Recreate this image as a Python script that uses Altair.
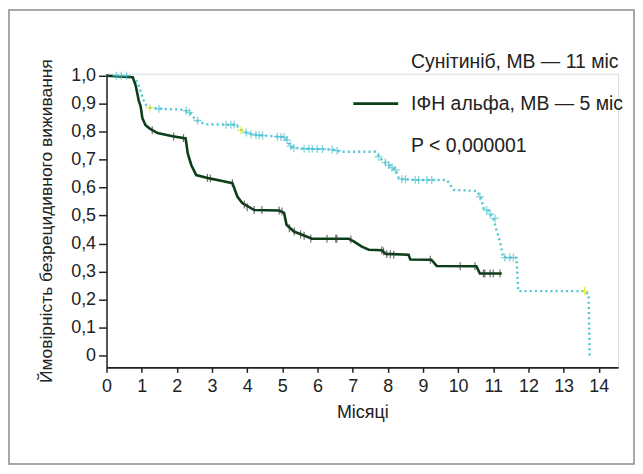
import altair as alt
import pandas as pd

# Sunitinib (dotted cyan) curve points: months, survival
sun_t = [0, 0.71, 0.89, 0.99, 1.085, 1.23, 1.51, 2.16, 2.36, 2.55, 2.83, 3.68, 3.87, 4.15, 4.99, 5.14, 5.24,
         5.48, 6.42, 6.70, 7.65, 7.84, 8.03, 8.22, 8.32, 8.88, 9.68, 9.87, 10.53, 10.65, 10.72, 10.86, 11.0,
         11.09, 11.19, 11.28, 11.66, 11.71, 13.6, 13.71, 13.74]
sun_s = [1.0, 0.998, 0.976, 0.936, 0.9, 0.886, 0.882, 0.879, 0.869, 0.841, 0.826, 0.825, 0.802, 0.79, 0.781,
         0.77, 0.746, 0.74, 0.736, 0.728, 0.728, 0.697, 0.681, 0.663, 0.63, 0.627, 0.627, 0.592, 0.588, 0.563,
         0.527, 0.517, 0.491, 0.449, 0.408, 0.351, 0.349, 0.23, 0.23, 0.218, 0.0]

# IFN alfa (solid dark green) curve points
ifn_t = [0, 0.745, 0.83, 0.915, 0.97, 1.02, 1.11, 1.23, 1.45, 1.88, 2.25, 2.31, 2.41, 2.55, 2.93, 3.29, 3.58,
         3.72, 3.86, 4.2, 4.91, 5.05, 5.12, 5.33, 5.67, 5.84, 6.89, 7.03, 7.26, 7.46, 7.83, 7.94, 8.59, 8.64,
         9.24, 9.39, 10.52, 10.62, 11.24]
ifn_s = [1.0, 0.995, 0.965, 0.912, 0.891, 0.848, 0.823, 0.811, 0.795, 0.784, 0.776, 0.722, 0.681, 0.645,
         0.633, 0.624, 0.616, 0.568, 0.545, 0.52, 0.518, 0.51, 0.467, 0.443, 0.426, 0.417, 0.417, 0.408, 0.389,
         0.378, 0.376, 0.363, 0.36, 0.343, 0.342, 0.32, 0.319, 0.293, 0.293]

# censored observations
sun_cens_t = [0.28, 0.42, 0.57, 1.23, 1.49, 2.27, 2.36, 2.59, 3.40, 3.54, 3.63, 3.82, 3.97, 4.11, 4.25, 4.34,
              4.44, 4.86, 4.96, 5.05, 5.14, 5.24, 5.33, 5.62, 5.76, 5.85, 5.99, 6.14, 6.42, 6.56, 7.74, 7.93,
              8.03, 8.12, 8.22, 8.40, 8.50, 8.78, 8.88, 9.11, 9.25, 10.62, 10.81, 10.91, 11.05, 11.33, 11.47,
              11.57, 13.6]
sun_cens_s = [1.0, 1.0, 1.0, 0.886, 0.882, 0.875, 0.869, 0.84, 0.825, 0.825, 0.825, 0.805, 0.797, 0.791,
              0.788, 0.787, 0.786, 0.782, 0.781, 0.78, 0.77, 0.748, 0.742, 0.739, 0.739, 0.739, 0.738, 0.738,
              0.736, 0.732, 0.71, 0.69, 0.681, 0.672, 0.663, 0.63, 0.63, 0.628, 0.627, 0.627, 0.627, 0.568,
              0.52, 0.505, 0.49, 0.35, 0.35, 0.35, 0.23]
sun_cens_hl = [0, 0, 0, 1, 0, 0, 0, 0, 0, 0, 0, 1, 0, 0, 0, 0, 0, 0, 0, 0, 0, 0, 0, 0, 0, 0, 0, 0, 0, 0, 0, 0,
               0, 0, 0, 0, 0, 0, 0, 0, 0, 0, 0, 0, 0, 0, 0, 0, 1]

ifn_cens_t = [1.30, 1.91, 2.19, 2.87, 2.95, 3.58, 3.92, 4.0, 4.2, 4.42, 4.91, 4.99, 5.2, 5.34, 5.52, 5.62,
              5.81, 6.27, 6.52, 6.55, 6.95, 7.83, 7.88, 7.97, 8.07, 8.17, 9.21, 10.06, 10.48, 10.72, 10.76,
              10.91, 11.0, 11.19]
ifn_cens_s = [0.805, 0.783, 0.777, 0.635, 0.633, 0.616, 0.54, 0.53, 0.52, 0.52, 0.518, 0.515, 0.455, 0.443,
              0.432, 0.428, 0.418, 0.417, 0.417, 0.417, 0.415, 0.376, 0.372, 0.363, 0.362, 0.36, 0.342, 0.319,
              0.319, 0.293, 0.293, 0.293, 0.293, 0.293]

y_ticks = [0, 0.1, 0.2, 0.3, 0.4, 0.5, 0.6, 0.7, 0.8, 0.9, 1.0]
x_ticks = [0, 1, 2, 3, 4, 5, 6, 7, 8, 9, 10, 11, 12, 13, 14]

legend_texts = ["Сунітиніб, МВ — 11 міс", "ІФН альфа, МВ — 5 міс", "P < 0,000001"]
legend_y = [-12, 30, 73]

CYAN = "#4fc4d2"
GREEN = "#0a3f18"
FONT = "Liberation Sans"

sun_df = pd.DataFrame({"t": sun_t, "s": sun_s})
ifn_df = pd.DataFrame({"t": ifn_t, "s": ifn_s})
sun_c = pd.DataFrame({"t": sun_cens_t, "s": sun_cens_s, "hl": sun_cens_hl})
ifn_c = pd.DataFrame({"t": ifn_cens_t, "s": ifn_cens_s})

xs = alt.Scale(domain=[0, 14.55], nice=False, zero=False)
ys = alt.Scale(domain=[-0.0427, 1.007], nice=False, zero=False)

x_axis = alt.Axis(
    values=x_ticks, title="Місяці", grid=False, tickSize=5, labelPadding=5, titlePadding=8,
    labelOverlap=False, labelFlush=False,
    labelFontSize=18, titleFontSize=18, labelFont=FONT, titleFont=FONT, titleFontWeight="normal",
    domainColor="#222", tickColor="#222", domainWidth=2, tickWidth=1.5, labelColor="#222", titleColor="#222")
y_axis = alt.Axis(
    values=y_ticks, title="Ймовірність безрецидивного виживання", grid=False, tickSize=8, labelPadding=3,
    labelOverlap=False, labelFlush=False,
    titlePadding=15, labelFontSize=18, titleFontSize=17.5, labelFont=FONT, titleFont=FONT,
    titleFontWeight="normal",
    labelExpr="datum.value == 0 ? '0' : replace(format(datum.value, '.1f'), '.', ',')",
    domainColor="#222", tickColor="#222", domainWidth=1.5, tickWidth=1.5, labelColor="#222",
    titleColor="#222")


def xe():
    return alt.X("t:Q", scale=xs, axis=x_axis)


def ye():
    return alt.Y("s:Q", scale=ys, axis=y_axis)


sun_line = alt.Chart(sun_df).mark_line(color=CYAN, strokeWidth=2.4, strokeDash=[2, 3.2]).encode(
    x=xe(), y=ye(), order="t:Q")
ifn_line = alt.Chart(ifn_df).mark_line(color=GREEN, strokeWidth=2.6).encode(x=xe(), y=ye(), order="t:Q")

plus = "M-1,0L1,0M0,-1L0,1"
vtick = "M0,-1L0,1"
sun_marks = alt.Chart(sun_c).mark_point(shape=plus, filled=False, size=64, strokeWidth=1.3).encode(
    x=xe(), y=ye(),
    color=alt.Color("hl:N", scale=alt.Scale(domain=[0, 1], range=[CYAN, "#e6e600"]), legend=None))
ifn_marks = alt.Chart(ifn_c).mark_point(shape=vtick, filled=False, size=64, strokeWidth=1.2,
                                        color="#333").encode(x=xe(), y=ye())

leg_layers = []
for txt, yy in zip(legend_texts, legend_y):
    leg_layers.append(
        alt.Chart(pd.DataFrame({"label": [txt]})).mark_text(
            align="left", baseline="middle", font=FONT, fontSize=19.5, color="#222").encode(
            x=alt.value(306), y=alt.value(yy), text="label:N"))
leg_line = alt.Chart(pd.DataFrame({"k": [1]})).mark_rule(color=GREEN, strokeWidth=2.6).encode(
    x=alt.value(248), x2=alt.value(293), y=alt.value(30))

frame = alt.Chart(pd.DataFrame({"k": [1]})).mark_rect(fill=None, stroke="#8a8a8a", strokeWidth=1.5).encode(
    x=alt.value(-98), x2=alt.value(530), y=alt.value(-64), y2=alt.value(392))

chart = alt.layer(sun_line, ifn_line, sun_marks, ifn_marks, leg_line, *leg_layers, frame).properties(
    width=514, height=295,
    autosize=alt.AutoSizeParams(type="none"),
    padding={"left": 99, "top": 65, "right": 17, "bottom": 98},
).configure_view(stroke=None).configure(background="white")

chart.save("out.html", embed_options={"renderer": "svg", "actions": False})
